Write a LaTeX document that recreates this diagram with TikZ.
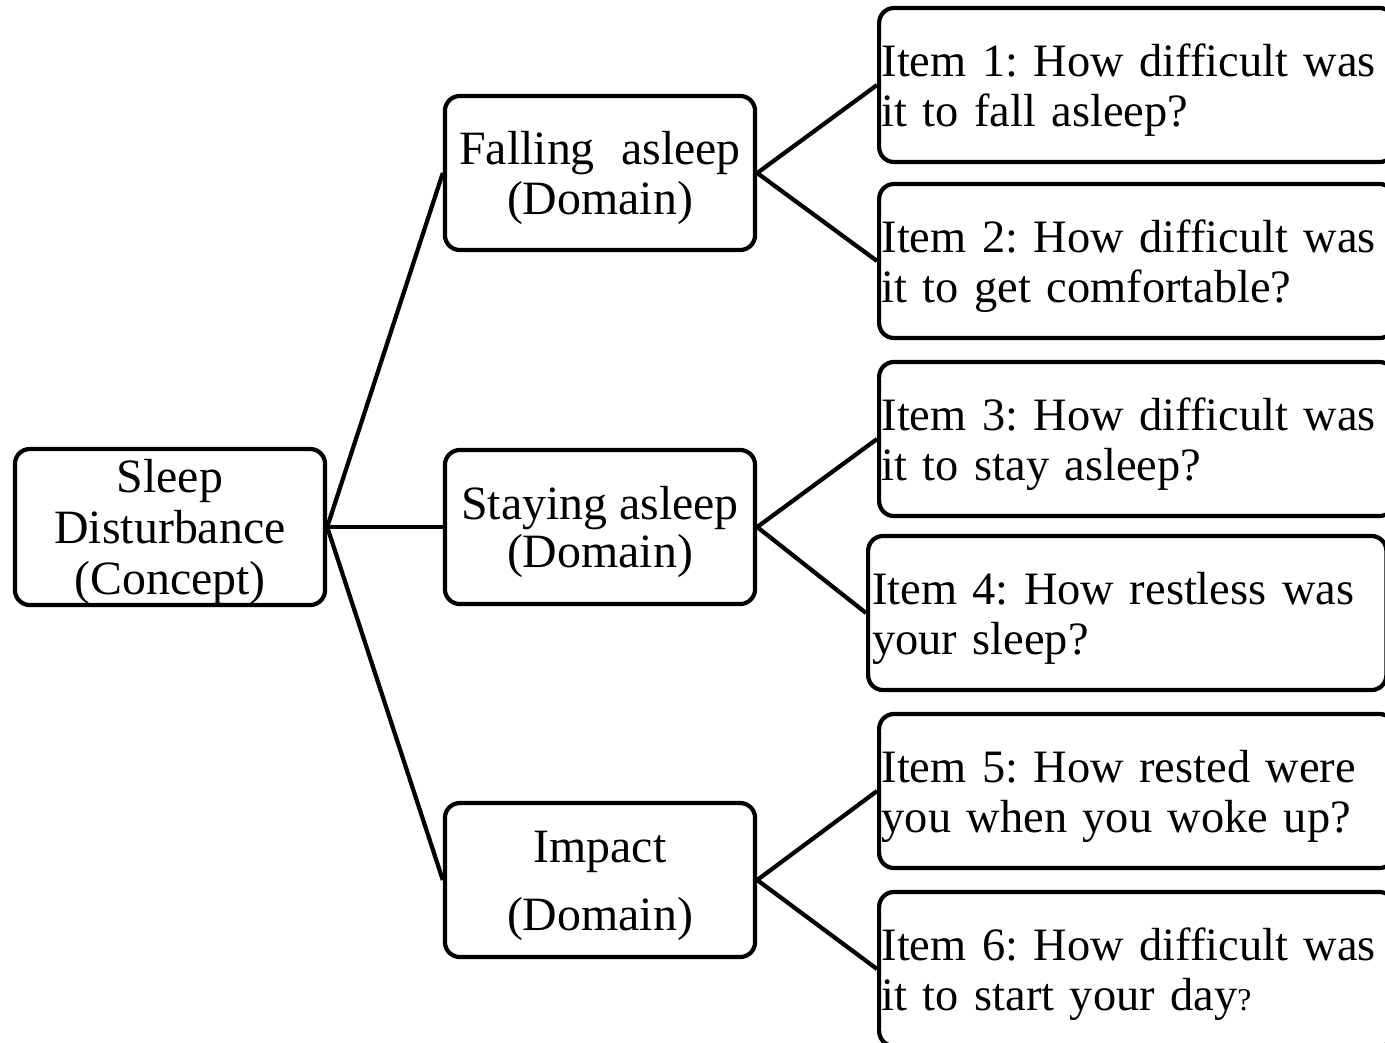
\documentclass[tikz,border=0pt]{standalone}
\usepackage{fontspec}
\setmainfont{Liberation Serif}
\newcommand{\tstrut}{\rule{0pt}{12.2pt}}

\begin{document}
\begin{tikzpicture}[x=0.01cm, y=-0.01cm, line width=1.2pt,
    box/.style={draw, rounded corners=0.15cm, minimum width=3.1cm,
      minimum height=1.54cm, inner sep=0pt, align=center,
      font=\fontsize{13.6}{14.4}\selectfont\frenchspacing},
    itembox/.style={box, anchor=west, minimum width=5.15cm,
      text width=5.1cm, align=left,
      font=\fontsize{13.2}{14.4}\selectfont\frenchspacing}]
    \useasboundingbox (0,0) rectangle (1385,1042);

    \node [box, minimum height=1.56cm] (concept) at (170,527) {\tstrut Sleep \\ Disturbance \\ (Concept)} ;

    \node [box] (falling) at (600,173) {\tstrut Falling\hspace{0.55em}asleep \\ (Domain)} ;
    \node [box] (staying) at (600,527) {\tstrut Staying asleep \\[-0.8pt] (Domain)} ;
    \node [box] (impact) at (600,880) {\tstrut Impact \\[5pt] (Domain)} ;

      \node [itembox] (item1) at (877,85) {\tstrut Item 1: How difficult was \\ it to fall asleep?} ;
      \node [itembox] (item2) at (877,261) {\tstrut Item 2: How difficult was \\ it to get comfortable?} ;
      \node [itembox] (item3) at (877,439) {\tstrut Item 3: How difficult was \\ it to stay asleep?} ;
      \node [itembox, minimum width=5.18cm] (item4) at (866,613) {\tstrut Item 4: How restless was \\ your sleep?} ;
      \node [itembox] (item5) at (877,791) {\tstrut Item 5: How rested were \\ you when you woke up?} ;
      \node [itembox] (item6) at (877,969) {\tstrut Item 6: How difficult was \\ it to start your day{\fontsize{9}{9}\selectfont ?}} ;

    \path (concept.east) edge (falling.west) ;
    \path (concept.east) edge (staying.west) ;
    \path (concept.east) edge (impact.west) ;
      \path (falling.east) edge (item1.west) ;
      \path (falling.east) edge (item2.west) ;
      \path (staying.east) edge (item3.west) ;
      \path (staying.east) edge (item4.west) ;
      \path (impact.east) edge (item5.west) ;
      \path (impact.east) edge (item6.west) ;
  \end{tikzpicture}
\end{document}
